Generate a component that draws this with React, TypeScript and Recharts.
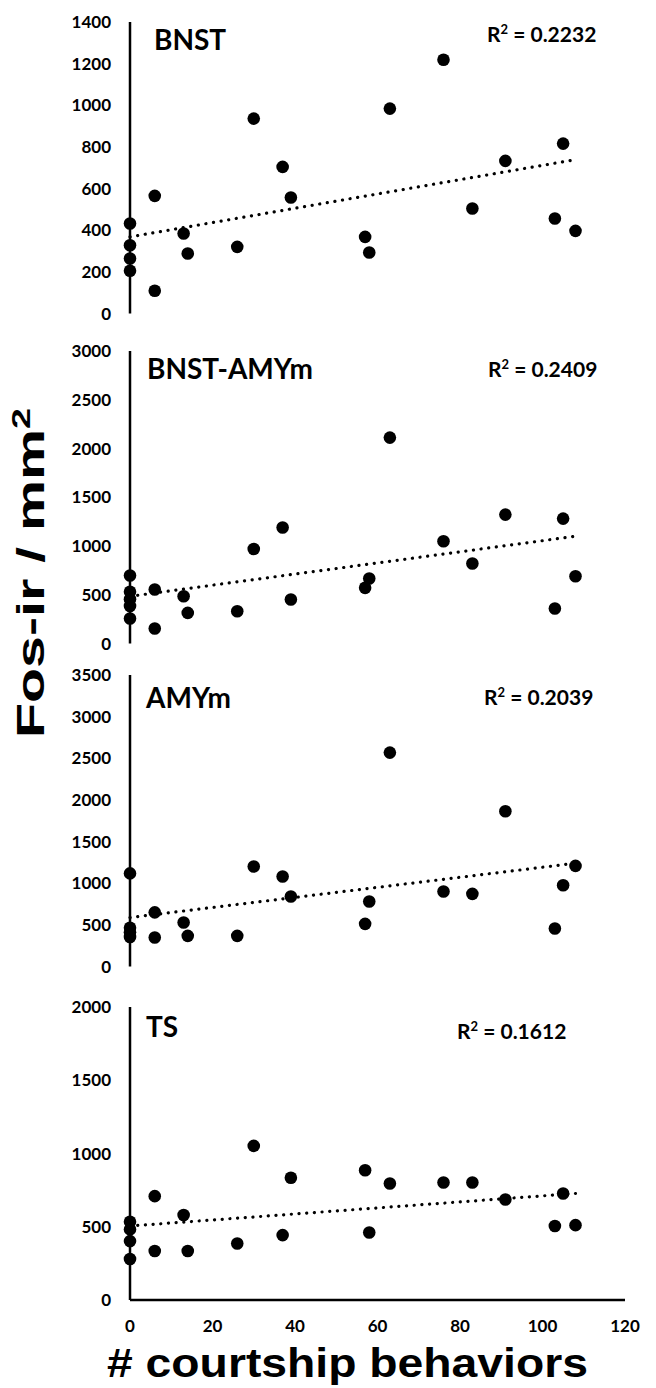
import { ScatterChart, Scatter, XAxis, YAxis, ReferenceLine } from 'recharts'

// x = number of courtship behaviors, y = Fos-ir cells / mm2
const bnstX = [0, 0, 0, 0, 6, 6, 13, 14, 26, 30, 37, 39, 57, 58, 63, 76, 83, 91, 103, 105, 108]
const bnstY = [432, 328, 264, 205, 565, 109, 384, 288, 320, 936, 704, 557, 368, 293, 984, 1219, 504, 733, 456, 816, 397]

const bnstAmyX = [0, 0, 0, 0, 0, 6, 6, 13, 14, 26, 30, 37, 39, 57, 58, 63, 76, 83, 91, 103, 105, 108]
const bnstAmyY = [697, 530, 455, 385, 256, 554, 154, 485, 314, 331, 970, 1189, 451, 571, 666, 2112, 1049, 820, 1322, 359, 1281, 690]

const amyX = [0, 0, 0, 0, 6, 6, 13, 14, 26, 30, 37, 39, 57, 58, 63, 76, 83, 91, 103, 105, 108]
const amyY = [1118, 465, 410, 355, 650, 348, 528, 368, 368, 1200, 1080, 840, 512, 780, 2568, 900, 872, 1864, 456, 976, 1208]

const tsX = [0, 0, 0, 0, 6, 6, 13, 14, 26, 30, 37, 39, 57, 58, 63, 76, 83, 91, 103, 105, 108]
const tsY = [534, 482, 402, 280, 709, 334, 580, 334, 386, 1052, 443, 834, 886, 461, 795, 802, 802, 686, 505, 727, 511]

// trendline end points
const bnstTrend = [{ x: 0, y: 368 }, { x: 108, y: 739 }]
const bnstAmyTrend = [{ x: 0, y: 484 }, { x: 108, y: 1100 }]
const amyTrend = [{ x: 0, y: 588 }, { x: 108, y: 1240 }]
const tsTrend = [{ x: 0, y: 505 }, { x: 108, y: 727 }]

const xTicks = [0, 20, 40, 60, 80, 100, 120]
const bnstTicks = [0, 200, 400, 600, 800, 1000, 1200, 1400]
const bnstAmyTicks = [0, 500, 1000, 1500, 2000, 2500, 3000]
const amyTicks = [0, 500, 1000, 1500, 2000, 2500, 3000, 3500]
const tsTicks = [0, 500, 1000, 1500, 2000]

const PAD = 12
const tickFont = { fill: '#000', fontSize: 17, fontWeight: 700, fontFamily: 'Lato' }

const toPoints = (xs: number[], ys: number[]) => xs.map((x, i) => ({ x, y: ys[i] }))

const Dot = (p: any) => <circle cx={p.cx} cy={p.cy} r={6.3} fill="#000" />

function Panel({ top, bottom, ticks, data, trend, showX }: any) {
  const plotH = bottom - top
  const xH = showX ? 44 : 0
  return (
    <div style={{ position: 'absolute', left: 0, top: top - PAD }}>
      <ScatterChart
        width={656}
        height={plotH + PAD + (showX ? xH : PAD)}
        margin={{ top: PAD, right: 31, left: 0, bottom: showX ? 0 : PAD }}
      >
        <XAxis
          type="number"
          dataKey="x"
          domain={[0, 120]}
          ticks={xTicks}
          height={xH}
          tick={showX ? tickFont : false}
          tickLine={false}
          tickSize={0}
          tickMargin={20}
          axisLine={{ stroke: '#000', strokeWidth: 2.5 }}
        />
        <YAxis
          type="number"
          dataKey="y"
          width={130}
          domain={[ticks[0], ticks[ticks.length - 1]]}
          ticks={ticks}
          tick={tickFont}
          tickLine={false}
          tickSize={0}
          tickMargin={19}
          interval={0}
          axisLine={{ stroke: '#000', strokeWidth: 2.5 }}
        />
        <ReferenceLine
          segment={trend}
          stroke="#000"
          strokeWidth={3.2}
          strokeDasharray="0.1 7.6"
          strokeLinecap="round"
          ifOverflow="visible"
        />
        <Scatter data={data} shape={Dot} isAnimationActive={false} />
      </ScatterChart>
    </div>
  )
}

const R2 = ({ x, y, v }: { x: number; y: number; v: string }) => (
  <text x={x} y={y} fontFamily="Lato" fontWeight={700} fontSize={21} fill="#000">
    R
    <tspan fontSize={13} dy={-8}>2</tspan>
    <tspan dy={8}>{' = ' + v}</tspan>
  </text>
)

const Name = ({ x, y, t }: { x: number; y: number; t: string }) => (
  <text x={x} y={y} fontFamily="Lato" fontWeight={700} fontSize={28} fill="#000">
    {t}
  </text>
)

export default function App() {
  return (
    <div style={{ position: 'absolute', left: 0, top: 0, width: 656, height: 1388, background: '#fff' }}>
      <Panel top={21.5} bottom={313} ticks={bnstTicks} data={toPoints(bnstX, bnstY)} trend={bnstTrend} />
      <Panel top={350.5} bottom={643} ticks={bnstAmyTicks} data={toPoints(bnstAmyX, bnstAmyY)} trend={bnstAmyTrend} />
      <Panel top={675} bottom={966.5} ticks={amyTicks} data={toPoints(amyX, amyY)} trend={amyTrend} />
      <Panel top={1007} bottom={1300} ticks={tsTicks} data={toPoints(tsX, tsY)} trend={tsTrend} showX />
      <svg width={656} height={1388} style={{ position: 'absolute', left: 0, top: 0, pointerEvents: 'none' }}>
        <Name x={154} y={50} t="BNST" />
        <Name x={147} y={379} t="BNST-AMYm" />
        <Name x={146} y={708} t="AMYm" />
        <Name x={146} y={1037} t="TS" />
        <R2 x={487} y={42} v="0.2232" />
        <R2 x={488} y={377} v="0.2409" />
        <R2 x={484} y={705} v="0.2039" />
        <R2 x={457} y={1039} v="0.1612" />
        <text
          transform="translate(44,573) rotate(-90)"
          textAnchor="middle"
          fontFamily="Liberation Sans"
          fontWeight={700}
          fontSize={38}
          fill="#000"
          textLength={330}
          lengthAdjust="spacingAndGlyphs"
        >
          Fos-ir / mm
          <tspan fontSize={25} dy={-14}>2</tspan>
        </text>
        <text
          x={107}
          y={1377}
          fontFamily="Liberation Sans"
          fontWeight={700}
          fontSize={41}
          fill="#000"
          textLength={481}
          lengthAdjust="spacingAndGlyphs"
        >
          # courtship behaviors
        </text>
      </svg>
    </div>
  )
}
